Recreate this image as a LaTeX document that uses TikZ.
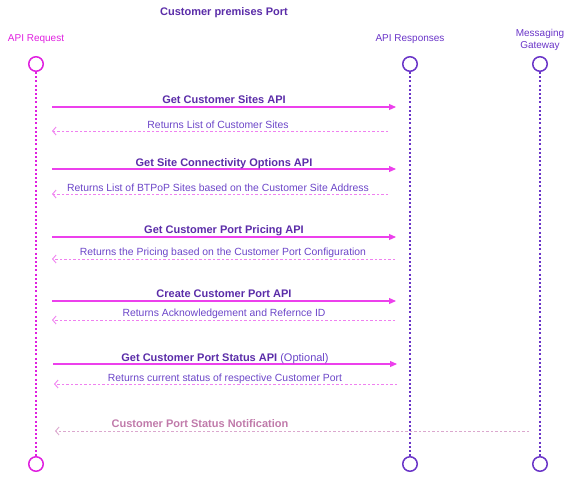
\documentclass[tikz,border=0pt]{standalone}
\usepackage{fontspec}
\setmainfont{Liberation Sans}
\usetikzlibrary{arrows.meta}
\definecolor{magc}{HTML}{E020E0}
\definecolor{callc}{HTML}{EC40EC}
\definecolor{retc}{HTML}{F080F0}
\definecolor{purc}{HTML}{6A35C8}
\definecolor{boldc}{HTML}{5A2CA8}
\definecolor{regc}{HTML}{6B45C8}
\definecolor{notc}{HTML}{C07AAA}
\definecolor{notl}{HTML}{DBA8CE}
\tikzset{
  head/.style={circle, draw, line width=1.5pt, minimum size=14.5pt, inner sep=0pt, fill=white},
  life/.style={line width=2.3pt, dash pattern=on 2pt off 2.2pt},
  call/.style={draw=callc, line width=1.1pt, -{Triangle[length=7pt,width=6pt]}},
  ret/.style={draw=retc, line width=0.9pt, dash pattern=on 2.5pt off 2pt, -{Straight Barb[length=3.5pt,width=8pt]}},
  notif/.style={draw=notl, line width=0.9pt, dash pattern=on 2.5pt off 2pt, -{Straight Barb[length=3.5pt,width=8pt]}},
  hdr/.style={font=\fontsize{10}{11.5}\selectfont, align=center, inner sep=0pt},
  blbl/.style={font=\fontsize{11}{12}\selectfont\bfseries, text=boldc, anchor=base, inner sep=0pt},
  rlbl/.style={font=\fontsize{10.4}{12}\selectfont, text=regc, anchor=base, inner sep=0pt},
}
\begin{document}
\begin{tikzpicture}[x=1pt,y=-1pt]
\useasboundingbox (0,0) rectangle (588,480);
% title and headers
\node[hdr, font=\fontsize{11}{12}\selectfont\bfseries, text=boldc] (title) at (224,13) {Customer premises Port};
\node[hdr, text=magc] (hreq) at (36,39) {API Request};
\node[hdr, text=purc] (hres) at (410,39) {API Responses};
\node[hdr, text=purc] (hgw) at (540,40) {Messaging\\Gateway};
% lifeline heads
\node[head, draw=magc] (reqT) at (36,64) {};
\node[head, draw=purc] (resT) at (410,64) {};
\node[head, draw=purc] (gwT) at (540,64) {};
\node[head, draw=magc] (reqB) at (36,464) {};
\node[head, draw=purc] (resB) at (410,464) {};
\node[head, draw=purc] (gwB) at (540,464) {};
\draw[life, draw=magc] (reqT) -- (reqB);
\draw[life, draw=purc] (resT) -- (resB);
\draw[life, draw=purc] (gwT) -- (gwB);
% messages
\coordinate (a1s) at (52,107); \coordinate (a1e) at (396,107);
\draw[call] (a1s) -- (a1e);
\node[blbl] (l1) at (224,103) {Get Customer Sites API};
\coordinate (r1s) at (388,131); \coordinate (r1e) at (52,131);
\draw[ret] (r1s) -- (r1e);
\node[rlbl] (k1) at (218,128) {Returns List of Customer Sites};

\coordinate (a2s) at (52,169); \coordinate (a2e) at (396,169);
\draw[call] (a2s) -- (a2e);
\node[blbl] (l2) at (224,166) {Get Site Connectivity Options API};
\coordinate (r2s) at (388,194); \coordinate (r2e) at (52,194);
\draw[ret] (r2s) -- (r2e);
\node[rlbl] (k2) at (218,191) {Returns List of BTPoP Sites based on the Customer Site Address};

\coordinate (a3s) at (52,237); \coordinate (a3e) at (396,237);
\draw[call] (a3s) -- (a3e);
\node[blbl] (l3) at (224,233) {Get Customer Port Pricing API};
\coordinate (r3s) at (395,259); \coordinate (r3e) at (52,259);
\draw[ret] (r3s) -- (r3e);
\node[rlbl] (k3) at (223,255) {Returns the Pricing based on the Customer Port Configuration};

\coordinate (a4s) at (52,301); \coordinate (a4e) at (396,301);
\draw[call] (a4s) -- (a4e);
\node[blbl] (l4) at (224,297) {Create Customer Port API};
\coordinate (r4s) at (395,320); \coordinate (r4e) at (52,320);
\draw[ret] (r4s) -- (r4e);
\node[rlbl] (k4) at (224,316) {Returns Acknowledgement and Refernce ID};

\coordinate (a5s) at (53,364); \coordinate (a5e) at (397,364);
\draw[call] (a5s) -- (a5e);
\node[blbl] (l5) at (225,361) {Get Customer Port Status API \textmd{\textcolor{regc}{(Optional)}}};
\coordinate (r5s) at (397,384); \coordinate (r5e) at (54,384);
\draw[ret] (r5s) -- (r5e);
\node[rlbl] (k5) at (225,381) {Returns current status of respective Customer Port};

\coordinate (n1s) at (529,431); \coordinate (n1e) at (55,431);
\draw[notif] (n1s) -- (n1e);
\node[blbl, text=notc] (k6) at (200,427) {Customer Port Status Notification};
\end{tikzpicture}
\end{document}
